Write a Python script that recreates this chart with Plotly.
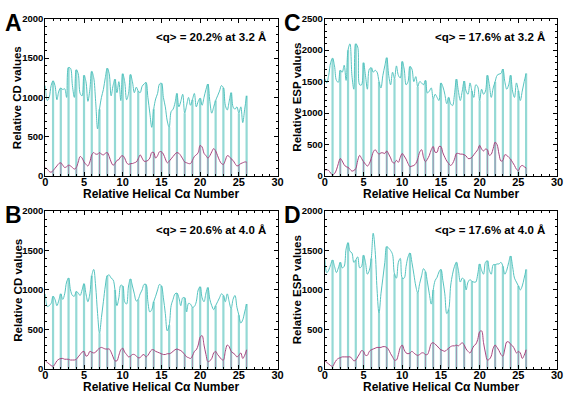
import plotly.graph_objects as go

STEP = 0.25
# Panel A (CD, 3.2 A)
a_cyan = [1150, 960, 1000, 1150, 1210, 1150, 970, 1080, 1120, 1100, 1110, 1000, 1380, 1370, 1150, 1000,
          1350, 1300, 1050, 1020, 1280, 1200, 950, 1100, 1330, 1250, 950, 600, 850, 1000, 1100, 1250,
          1370, 1300, 1020, 1150, 1230, 1060, 1200, 960, 1300, 1200, 970, 1050, 1290, 1200, 1060, 1130,
          1080, 1060, 1140, 1170, 1190, 1000, 800, 620, 850, 980, 1050, 1170, 1180, 1000, 880, 700,
          620, 820, 850, 930, 1050, 880, 950, 1040, 800, 900, 1000, 900, 970, 1050, 880, 950,
          990, 900, 1000, 1100, 1170, 950, 800, 880, 960, 1020, 1080, 1150, 1120, 900, 840, 950,
          1060, 880, 850, 880, 800, 880, 680, 850, 1020]
a_mag = [110, 90, 60, 50, 70, 100, 130, 160, 170, 140, 110, 120, 140, 130, 110, 90,
         110, 180, 250, 230, 180, 150, 130, 180, 270, 300, 280, 280, 300, 280, 270, 290,
         300, 250, 180, 140, 160, 200, 210, 250, 260, 230, 170, 150, 160, 160, 170, 180,
         220, 270, 230, 190, 190, 200, 230, 300, 300, 230, 260, 310, 310, 280, 220, 170,
         190, 220, 250, 280, 300, 290, 260, 220, 180, 170, 160, 160, 200, 250, 270, 300,
         390, 370, 290, 260, 230, 260, 310, 350, 320, 260, 200, 160, 150, 200, 260, 250,
         220, 200, 160, 130, 140, 160, 170, 180, 180]
# Panel B (CD, 4.0 A)
b_cyan = [950, 790, 800, 830, 920, 880, 800, 870, 950, 880, 950, 1100, 1150, 1000, 930, 920,
          980, 960, 930, 1000, 1080, 950, 850, 950, 1180, 1260, 1050, 700, 450, 650, 850, 1050,
          1180, 1190, 1150, 1130, 1000, 800, 900, 1060, 1050, 850, 820, 1050, 1140, 1050, 950, 860,
          880, 950, 1000, 1070, 1070, 850, 720, 750, 850, 920, 1000, 1070, 1050, 900, 700, 480,
          550, 800, 880, 950, 960, 900, 800, 900, 900, 720, 830, 820, 780, 790, 850, 1000,
          1040, 900, 850, 960, 1030, 880, 800, 750, 800, 850, 900, 950, 930, 850, 950, 850,
          760, 880, 930, 780, 680, 580, 620, 720, 820]
b_mag = [100, 80, 60, 40, 30, 60, 100, 120, 130, 130, 120, 120, 120, 110, 110, 110,
         120, 150, 180, 210, 220, 160, 170, 220, 210, 200, 210, 240, 260, 270, 260, 250,
         250, 250, 210, 150, 100, 100, 170, 240, 260, 210, 180, 150, 160, 180, 180, 160,
         140, 140, 170, 180, 150, 170, 210, 240, 240, 220, 210, 200, 190, 180, 180, 190,
         190, 200, 220, 240, 250, 240, 230, 210, 180, 150, 140, 130, 160, 220, 240, 300,
         400, 420, 300, 180, 90, 100, 130, 200, 220, 180, 150, 120, 110, 220, 300, 280,
         220, 200, 180, 150, 170, 200, 130, 170, 240]
# Panel C (ESP, 3.2 A)
c_cyan = [1550, 1480, 1600, 1800, 1870, 1750, 1520, 1490, 1680, 1650, 1760, 1520, 2000, 2100, 1600, 1380,
          2100, 2050, 1450, 1450, 1800, 1600, 1380, 1700, 1720, 1650, 1680, 1650, 1500, 1400, 1600, 1750,
          1880, 1600, 1450, 1650, 1550, 1750, 1600, 1560, 1820, 1700, 1450, 1500, 1740, 1700, 1500, 1580,
          1420, 1500, 1480, 1450, 1520, 1320, 1350, 1400, 1220, 1300, 1250, 1200, 1480, 1420, 1300, 1150,
          1250, 1150, 1120, 1300, 1540, 1350, 1200, 1350, 1510, 1350, 1300, 1480, 1350, 1250, 1450, 1420,
          1200, 1380, 1300, 1350, 1600, 1450, 1250, 1400, 1500, 1600, 1620, 1630, 1700, 1500, 1380, 1450,
          1600, 1350, 1250, 1480, 1350, 1200, 1350, 1500, 1630]
c_mag = [100, 100, 90, 50, 20, 40, 100, 200, 280, 240, 180, 150, 140, 110, 80, 90,
         120, 250, 330, 280, 230, 190, 160, 200, 280, 380, 420, 380, 350, 370, 370, 360,
         400, 350, 290, 220, 210, 250, 220, 300, 360, 320, 270, 200, 150, 160, 170, 200,
         270, 380, 420, 300, 230, 270, 330, 420, 470, 380, 380, 470, 470, 370, 300, 240,
         200, 170, 200, 270, 360, 360, 350, 350, 340, 320, 280, 280, 300, 340, 380, 420,
         490, 430, 400, 430, 420, 330, 350, 440, 540, 500, 350, 240, 250, 340, 330, 300,
         270, 220, 170, 110, 90, 150, 170, 150, 130]
# Panel D (ESP, 4.0 A)
d_cyan = [1400, 1220, 1250, 1320, 1380, 1300, 1220, 1280, 1350, 1280, 1300, 1520, 1600, 1490, 1470, 1350,
          1380, 1420, 1280, 1300, 1440, 1350, 1200, 1250, 1400, 1720, 1500, 1000, 700, 950, 1150, 1350,
          1550, 1530, 1500, 1450, 1200, 1150, 1350, 1400, 1150, 1150, 1300, 1420, 1470, 1350, 1200, 1050,
          960, 1080, 1180, 1270, 1230, 1100, 950, 820, 1000, 1120, 1160, 1230, 1260, 1120, 950, 700,
          750, 1050, 1200, 1300, 1350, 1250, 1100, 1150, 1130, 1000, 1100, 1130, 1110, 1100, 1100, 1200,
          1330, 1250, 1200, 1350, 1370, 1250, 1200, 1320, 1320, 1330, 1330, 1350, 1300, 1200, 1250, 1350,
          1430, 1300, 1150, 1100, 1050, 1000, 1050, 1150, 1260]
d_mag = [100, 80, 60, 40, 30, 70, 110, 130, 140, 150, 150, 150, 150, 150, 130, 100,
         110, 150, 190, 230, 220, 170, 170, 220, 240, 250, 260, 270, 270, 270, 280, 280,
         270, 240, 190, 150, 110, 110, 180, 270, 300, 240, 200, 190, 200, 220, 200, 180,
         170, 180, 200, 200, 180, 180, 240, 320, 330, 310, 290, 260, 240, 230, 220, 240,
         260, 280, 290, 290, 300, 290, 310, 330, 300, 250, 220, 200, 240, 290, 310, 370,
         470, 480, 330, 200, 110, 120, 160, 260, 300, 270, 230, 180, 160, 250, 340, 340,
         310, 290, 250, 200, 220, 200, 130, 170, 240]

panels = [
    dict(letter="A", cyan=a_cyan, mag=a_mag, ymax=2000, ytitle="Relative CD values",
         note="<q> = 20.2% at 3.2 Å", col=0, row=0),
    dict(letter="C", cyan=c_cyan, mag=c_mag, ymax=2500, ytitle="Relative ESP values",
         note="<q> = 17.6% at 3.2 Å", col=1, row=0),
    dict(letter="B", cyan=b_cyan, mag=b_mag, ymax=2000, ytitle="Relative CD values",
         note="<q> = 20.6% at 4.0 Å", col=0, row=1),
    dict(letter="D", cyan=d_cyan, mag=d_mag, ymax=2000, ytitle="Relative ESP values",
         note="<q> = 17.6% at 4.0 Å", col=1, row=1),
]
xtitle = "Relative Helical Cα Number"

W, H = 568, 398
CYAN = "#55c3bf"
CYAN_DROP = "#94d9d5"
MAG = "#a8457f"
MAG_DROP = "rgba(176,80,140,0.55)"
FONT = "Liberation Sans, Arial, sans-serif"

def px(x):
    return x / W

def py(y):
    return 1 - y / H

col_x = [(43, 279), (327, 563)]
row_y = [(13, 175), (211, 373)]

fig = go.Figure()
annotations = []
for i, p in enumerate(panels):
    n = i + 1
    xa = "x" if n == 1 else f"x{n}"
    ya = "y" if n == 1 else f"y{n}"
    xs = [k * STEP for k in range(len(p["cyan"]))]
    per = int(round(1 / STEP))
    ints = list(range(1, int(xs[-1]) + 1))
    # drop lines
    for series, color, w in ((p["cyan"], CYAN_DROP, 2.2), (p["mag"], MAG_DROP, 1.0)):
        dx, dy = [], []
        for m in ints:
            dx += [m, m, None]
            dy += [0, series[m * per], None]
        fig.add_trace(go.Scatter(x=dx, y=dy, mode="lines", xaxis=xa, yaxis=ya,
                                 line=dict(color=color, width=w), showlegend=False,
                                 hoverinfo="skip"))
    fig.add_trace(go.Scatter(x=xs, y=p["cyan"], mode="lines", xaxis=xa, yaxis=ya,
                             line=dict(color=CYAN, width=1, shape="spline", smoothing=1.0),
                             showlegend=False))
    fig.add_trace(go.Scatter(x=xs, y=p["mag"], mode="lines", xaxis=xa, yaxis=ya,
                             line=dict(color=MAG, width=1, shape="spline", smoothing=1.0),
                             showlegend=False))
    x0, x1 = col_x[p["col"]]
    y0, y1 = row_y[p["row"]]
    common = dict(showline=True, linecolor="black", linewidth=1, mirror="allticks",
                  ticks="inside", ticklen=4, tickcolor="black", showgrid=False, zeroline=False)
    fig.layout[("xaxis" if n == 1 else f"xaxis{n}")] = dict(
        domain=[px(x0), px(x1)], anchor=ya, range=[0, 30], dtick=5, tick0=0,
        ticklabelstandoff=-4,
        tickfont=dict(family=FONT, size=11, color="black", weight="bold"),
        minor=dict(dtick=1, ticks="inside", ticklen=2, tickcolor="black"), **common)
    fig.layout[("yaxis" if n == 1 else f"yaxis{n}")] = dict(
        domain=[py(y1), py(y0)], anchor=xa, range=[0, p["ymax"]], dtick=500, tick0=0,
        ticklabelstandoff=-1,
        tickfont=dict(family=FONT, size=9.5, color="black", weight="bold"),
        minor=dict(dtick=100, ticks="inside", ticklen=2, tickcolor="black"), **common)
    off_x = 0 if p["col"] == 0 else 284
    off_y = 0 if p["row"] == 0 else 198
    annotations.append(dict(text=p["letter"], x=px(off_x + 1), y=py(off_y + 3), xref="paper", yref="paper",
                            xanchor="left", yanchor="top", showarrow=False, borderpad=0,
                            font=dict(family=FONT, size=23, color="black", weight="bold")))
    annotations.append(dict(text=p["note"].replace("<", "&lt;").replace(">", "&gt;"),
                            x=px(x1 - 10), y=py(y0 + 19), xref="paper", yref="paper",
                            xanchor="right", yanchor="middle", showarrow=False,
                            font=dict(family=FONT, size=11.5, color="black", weight="bold")))
    annotations.append(dict(text=xtitle, x=px((x0 + x1) / 2), y=py(y1 + 18.5), xref="paper", yref="paper",
                            xanchor="center", yanchor="middle", showarrow=False,
                            font=dict(family=FONT, size=12, color="black", weight="bold")))
    annotations.append(dict(text=p["ytitle"], x=px(off_x + 15), y=py((y0 + y1) / 2), xref="paper",
                            yref="paper", xanchor="center", yanchor="middle", textangle=-90,
                            showarrow=False,
                            font=dict(family=FONT, size=11.5, color="black", weight="bold")))

fig.update_layout(width=W, height=H, margin=dict(l=0, r=0, t=0, b=0),
                  paper_bgcolor="white", plot_bgcolor="white", annotations=annotations)
fig.write_html("out.html", config={"displayModeBar": False},
               post_script="document.body.style.margin='0';document.body.style.overflow='hidden';")
